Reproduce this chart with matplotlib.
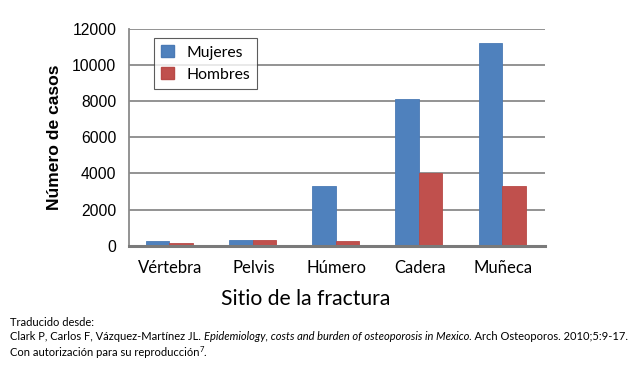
import numpy as np
import matplotlib.pyplot as plt
from matplotlib.patches import Patch

# datos
sitios = ['Vértebra', 'Pelvis', 'Húmero', 'Cadera', 'Muñeca']
mujeres = [250, 330, 3300, 8100, 11200]
hombres = [170, 340, 250, 4000, 3300]
yticks = [0, 2000, 4000, 6000, 8000, 10000, 12000]

azul = '#4F81BD'
rojo = '#C0504D'
cal = 'Lato'

fig = plt.figure(figsize=(6.41, 3.68), dpi=100)
ax = fig.add_axes([0.2012, 0.3323, 0.649, 0.589])

x = np.arange(len(sitios))
w = 0.283
ax.bar(x - w / 2 - 0.015, mujeres, w, color=azul, edgecolor='#4A7AB5', linewidth=0.6, zorder=3)
ax.bar(x + w / 2 - 0.015, hombres, w, color=rojo, edgecolor='#B84A47', linewidth=0.6, zorder=3)

ax.set_xlim(-0.5, 4.5)
ax.set_ylim(0, 12000)
ax.set_yticks(yticks)
ax.set_yticklabels([str(v) for v in yticks], family='Liberation Sans', fontsize=11.3)
ax.set_xticks(x)
ax.set_xticklabels(sitios, family=cal, fontsize=12)
ax.tick_params(axis='y', length=0, pad=9)
ax.tick_params(axis='x', length=0, pad=10)
ax.grid(axis='y', color='#8a8a8a', linewidth=1.3, zorder=0)
for s in ['top', 'right']:
    ax.spines[s].set_visible(False)
ax.spines['left'].set_color('#8a8a8a')
ax.spines['left'].set_linewidth(1.3)
ax.spines['bottom'].set_color('#7a7a7a')
ax.spines['bottom'].set_linewidth(2.2)
ax.spines['bottom'].set_zorder(4)

ax.set_ylabel('Número de casos', family='Liberation Sans', fontsize=12.6, fontweight='bold')
ax.yaxis.set_label_coords(-0.16, 0.5)
ax.set_xlabel('Sitio de la fractura', family=cal, fontsize=15.2)
ax.xaxis.set_label_coords(0.425, -0.2)

hs = [Patch(facecolor=azul, edgecolor='#4A7AB5'), Patch(facecolor=rojo, edgecolor='#B84A47')]
leg = ax.legend(hs, ['Mujeres', 'Hombres'], loc='upper left', bbox_to_anchor=(0.06, 0.958),
                prop={'family': cal, 'size': 11.3}, frameon=True, fancybox=False,
                handlelength=0.8, handleheight=0.8, handletextpad=0.8, labelspacing=0.5,
                borderpad=0.45, borderaxespad=0)
leg.get_frame().set_edgecolor('#333333')
leg.get_frame().set_linewidth(0.8)

# nota al pie
fs = 8
fig.text(10 / 641, 1 - 322 / 368, 'Traducido desde:', family=cal, fontsize=fs, va='center')
t1 = fig.text(10 / 641, 1 - 337 / 368, 'Clark P, Carlos F, Vázquez-Martínez JL. ',
              family=cal, fontsize=fs, va='center')
t2 = ax.annotate('Epidemiology, costs and burden of osteoporosis in Mexico', xy=(1, 0.5),
                 xycoords=t1, va='center', ha='left', family=cal, fontsize=fs,
                 style='italic', annotation_clip=False)
ax.annotate('. Arch Osteoporos. 2010;5:9-17.', xy=(1, 0.5), xycoords=t2, va='center',
            ha='left', family=cal, fontsize=fs, annotation_clip=False)
t4 = fig.text(10 / 641, 1 - 352 / 368, 'Con autorización para su reproducción', family=cal,
              fontsize=fs, va='center')
t5 = ax.annotate('7', xy=(1, 0.75), xycoords=t4, va='center', ha='left',
                 family=cal, fontsize=5.5, annotation_clip=False)
ax.annotate('.', xy=(1, 0.5), xycoords=(t5, t4), va='center', ha='left',
            family=cal, fontsize=fs, annotation_clip=False)

fig.savefig('out.png', dpi=100)
